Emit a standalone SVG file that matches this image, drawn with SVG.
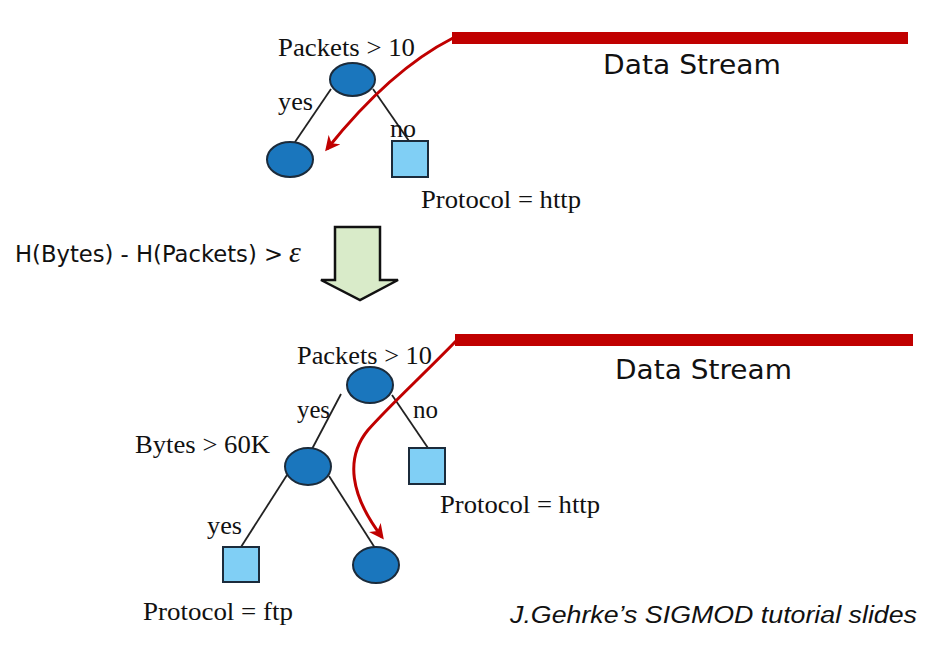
<svg xmlns="http://www.w3.org/2000/svg" width="938" height="663" viewBox="0 0 938 663">
<style>
.t{font-family:"Liberation Serif","Times New Roman",serif;font-size:25px;fill:#111}
.s{font-family:"DejaVu Sans",Verdana,sans-serif;fill:#111}
.node{fill:#1a76bd;stroke:#1b2b3b;stroke-width:2}
.leaf{fill:#80cff5;stroke:#1b2b3b;stroke-width:2}
.edge{stroke:#222;stroke-width:1.8;fill:none}
.stream{fill:#c00000}
.flow{stroke:#c00000;stroke-width:3;fill:none;marker-end:url(#ah)}
</style>
<defs>
<marker id="ah" viewBox="0 0 10 10" refX="8" refY="5" markerWidth="5" markerHeight="5" orient="auto" markerUnits="strokeWidth">
<path d="M0,0 L10,5 L0,10 L3,5 Z" fill="#c00000"/>
</marker>
</defs>
<rect width="938" height="663" fill="#fff"/>

<g id="connectors">
<line class="edge" x1="331" y1="89" x2="295" y2="142"/>
<line class="edge" x1="373" y1="89" x2="409" y2="141"/>
<line class="edge" x1="341" y1="394" x2="312" y2="449"/>
<line class="edge" x1="392" y1="395" x2="428" y2="448"/>
<line class="edge" x1="287" y1="475" x2="241" y2="547"/>
<line class="edge" x1="329" y1="476" x2="375" y2="548"/>
</g>

<g id="stream-top">
<rect class="stream" x="452" y="32" width="456" height="12"/>
<path class="flow" d="M453,38 Q390,70 327,149"/>
<text class="s" x="603" y="74" font-size="27" textLength="178" lengthAdjust="spacingAndGlyphs">Data Stream</text>
</g>

<g id="stream-bottom">
<rect class="stream" x="455" y="334" width="458" height="12"/>
<path class="flow" d="M457,340 C420,378 390,405 368,430 C345,458 350,495 382,537"/>
<text class="s" x="615" y="379" font-size="27" textLength="177" lengthAdjust="spacingAndGlyphs">Data Stream</text>
</g>

<g id="top-root">
<ellipse class="node" cx="352.5" cy="79.5" rx="22.5" ry="16.5"/>
<text class="t" x="278" y="56" textLength="137" lengthAdjust="spacingAndGlyphs">Packets &gt; 10</text>
</g>
<g id="top-yes-label"><text class="t" x="278" y="110" textLength="35" lengthAdjust="spacingAndGlyphs">yes</text></g>
<g id="top-no-label"><text class="t" x="390" y="137" textLength="26" lengthAdjust="spacingAndGlyphs">no</text></g>
<g id="top-left-leaf">
<ellipse class="node" cx="290" cy="159.5" rx="23" ry="17.5"/>
</g>
<g id="top-http">
<rect class="leaf" x="392" y="141" width="36" height="36"/>
<text class="t" x="421" y="208" textLength="160" lengthAdjust="spacingAndGlyphs">Protocol = http</text>
</g>

<g id="transition">
<polygon points="335,227 380,227 380,280 398,280 360,300 321,280 335,280" fill="#d9ebc9" stroke="#111" stroke-width="2.5" stroke-linejoin="miter"/>
<text class="s" x="15" y="262" font-size="23" textLength="268" lengthAdjust="spacingAndGlyphs">H(Bytes) - H(Packets) &gt;</text>
<text x="289" y="262" font-family="Liberation Serif,serif" font-style="italic" font-size="30" fill="#111">ε</text>
</g>

<g id="bottom-root">
<ellipse class="node" cx="370" cy="385" rx="23" ry="18"/>
<text class="t" x="297" y="364" textLength="135" lengthAdjust="spacingAndGlyphs">Packets &gt; 10</text>
</g>
<g id="bottom-yes-label"><text class="t" x="297" y="418" textLength="33" lengthAdjust="spacingAndGlyphs">yes</text></g>
<g id="bottom-no-label"><text class="t" x="413" y="418" textLength="25" lengthAdjust="spacingAndGlyphs">no</text></g>
<g id="bottom-http">
<rect class="leaf" x="409" y="448" width="36" height="36"/>
<text class="t" x="440" y="513" textLength="160" lengthAdjust="spacingAndGlyphs">Protocol = http</text>
</g>
<g id="bytes-node">
<ellipse class="node" cx="308" cy="466.5" rx="23" ry="18.5"/>
<text class="t" x="135" y="453" textLength="135" lengthAdjust="spacingAndGlyphs">Bytes &gt; 60K</text>
</g>
<g id="bytes-yes-label"><text class="t" x="207" y="534" textLength="35" lengthAdjust="spacingAndGlyphs">yes</text></g>
<g id="ftp-leaf">
<rect class="leaf" x="223" y="547" width="36" height="35"/>
<text class="t" x="143" y="620" textLength="150" lengthAdjust="spacingAndGlyphs">Protocol = ftp</text>
</g>
<g id="bottom-right-leaf">
<ellipse class="node" cx="376" cy="565" rx="23" ry="18"/>
</g>

<g id="credit">
<text x="510" y="623" font-family="Liberation Sans,Arial,sans-serif" font-style="italic" font-size="23" fill="#111" textLength="407" lengthAdjust="spacingAndGlyphs">J.Gehrke’s SIGMOD tutorial slides</text>
</g>
</svg>
